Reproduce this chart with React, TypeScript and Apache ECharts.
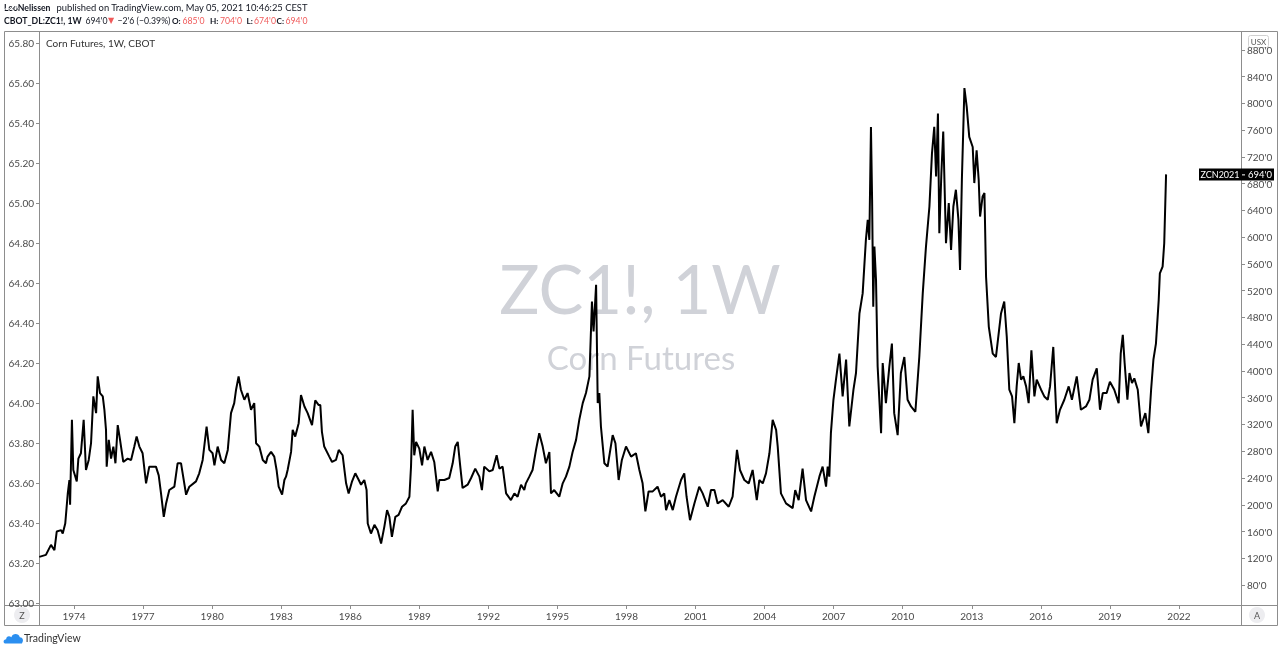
import React, { useEffect, useRef } from "react";
import * as echarts from "echarts";

// Weekly close samples (decimal year, price in US cents)
const weekYears = [
  1972.49, 1972.78, 1973.0, 1973.15, 1973.25, 1973.44, 1973.51, 1973.62, 1973.73, 1973.8, 1973.83, 1973.91, 1973.97,
  1974.12, 1974.19, 1974.3, 1974.42, 1974.52, 1974.64, 1974.74, 1974.84, 1974.96, 1975.03, 1975.13, 1975.25, 1975.32,
  1975.39, 1975.42, 1975.51, 1975.61, 1975.71, 1975.8, 1975.9, 1976.0, 1976.14, 1976.33, 1976.48, 1976.62, 1976.72,
  1976.84, 1976.98, 1977.13, 1977.27, 1977.56, 1977.68, 1977.78, 1977.9, 1978.0, 1978.14, 1978.36, 1978.5, 1978.65,
  1978.72, 1978.87, 1979.01, 1979.3, 1979.44, 1979.59, 1979.76, 1979.88, 1980.02, 1980.1, 1980.24, 1980.39, 1980.53,
  1980.68, 1980.82, 1980.96, 1981.04, 1981.15, 1981.25, 1981.4, 1981.54, 1981.69, 1981.83, 1981.91, 1982.05, 1982.2,
  1982.34, 1982.41, 1982.56, 1982.7, 1982.8, 1982.89, 1983.04, 1983.14, 1983.21, 1983.28, 1983.43, 1983.5, 1983.61,
  1983.76, 1983.86, 1984.01, 1984.15, 1984.34, 1984.48, 1984.63, 1984.7, 1984.77, 1984.87, 1985.09, 1985.21, 1985.38,
  1985.5, 1985.67, 1985.82, 1985.93, 1986.08, 1986.22, 1986.37, 1986.47, 1986.61, 1986.71, 1986.76, 1986.9, 1987.05,
  1987.19, 1987.34, 1987.48, 1987.6, 1987.7, 1987.81, 1987.96, 1988.1, 1988.25, 1988.42, 1988.57, 1988.64, 1988.71,
  1988.78, 1988.86, 1989.0, 1989.12, 1989.22, 1989.36, 1989.51, 1989.65, 1989.8, 1989.87, 1990.09, 1990.3, 1990.45,
  1990.56, 1990.67, 1990.78, 1990.88, 1991.1, 1991.25, 1991.43, 1991.61, 1991.72, 1991.82, 1992.04, 1992.19, 1992.36,
  1992.48, 1992.62, 1992.77, 1992.98, 1993.13, 1993.27, 1993.42, 1993.56, 1993.63, 1993.78, 1993.92, 1994.07, 1994.21,
  1994.36, 1994.5, 1994.65, 1994.72, 1994.86, 1995.08, 1995.23, 1995.37, 1995.52, 1995.66, 1995.81, 1995.95, 1996.1,
  1996.24, 1996.39, 1996.5, 1996.57, 1996.68, 1996.75, 1996.82, 1996.89, 1997.04, 1997.18, 1997.4, 1997.52, 1997.66,
  1997.8, 1997.98, 1998.2, 1998.41, 1998.56, 1998.7, 1998.82, 1998.96, 1999.14, 1999.35, 1999.5, 1999.64, 1999.72,
  1999.86, 2000.01, 2000.15, 2000.37, 2000.51, 2000.61, 2000.76, 2000.95, 2001.16, 2001.31, 2001.53, 2001.67, 2001.82,
  2001.96, 2002.18, 2002.44, 2002.61, 2002.8, 2002.93, 2003.12, 2003.31, 2003.48, 2003.66, 2003.77, 2003.92, 2004.06,
  2004.21, 2004.35, 2004.5, 2004.57, 2004.71, 2004.93, 2005.22, 2005.33, 2005.48, 2005.65, 2005.8, 2006.02, 2006.16,
  2006.38, 2006.52, 2006.67, 2006.74, 2006.81, 2006.88, 2006.99, 2007.1, 2007.25, 2007.39, 2007.54, 2007.68, 2007.86,
  2007.97, 2008.12, 2008.26, 2008.33, 2008.4, 2008.48, 2008.55, 2008.62, 2008.67, 2008.72, 2008.77, 2008.84, 2008.91,
  2009.06, 2009.13, 2009.27, 2009.42, 2009.53, 2009.63, 2009.78, 2009.92, 2010.07, 2010.21, 2010.36, 2010.55, 2010.72,
  2010.87, 2011.01, 2011.16, 2011.27, 2011.37, 2011.45, 2011.53, 2011.59, 2011.68, 2011.76, 2011.88, 2012.0, 2012.1,
  2012.2, 2012.31, 2012.42, 2012.49, 2012.57, 2012.68, 2012.78, 2012.89, 2013.04, 2013.11, 2013.21, 2013.3, 2013.36,
  2013.47, 2013.55, 2013.62, 2013.74, 2013.91, 2014.05, 2014.27, 2014.41, 2014.52, 2014.63, 2014.75, 2014.85, 2014.95,
  2015.04, 2015.14, 2015.24, 2015.36, 2015.47, 2015.59, 2015.72, 2015.82, 2016.01, 2016.15, 2016.3, 2016.4, 2016.54,
  2016.69, 2016.83, 2017.02, 2017.21, 2017.35, 2017.56, 2017.74, 2017.96, 2018.11, 2018.25, 2018.43, 2018.57, 2018.69,
  2018.86, 2019.0, 2019.19, 2019.38, 2019.47, 2019.56, 2019.64, 2019.76, 2019.85, 2019.96, 2020.06, 2020.21, 2020.35,
  2020.54, 2020.67, 2020.79, 2020.89, 2021.0, 2021.12, 2021.17, 2021.29, 2021.36, 2021.44,
];

const closePrices = [
  122, 125, 140, 132, 160, 162, 157, 172, 217, 237, 200, 327, 252,
  235, 269, 277, 327, 252, 267, 292, 362, 337, 392, 367, 362, 342,
  312, 257, 297, 269, 287, 262, 319, 297, 264, 269, 267, 287, 302,
  287, 277, 232, 257, 257, 244, 217, 182, 202, 222, 227, 262, 262,
  247, 215, 227, 235, 247, 267, 317, 282, 277, 259, 287, 267, 262,
  282, 337, 352, 372, 392, 372, 357, 367, 342, 352, 292, 287, 267,
  262, 272, 279, 272, 252, 227, 215, 237, 242, 252, 279, 312, 302,
  322, 364, 347, 337, 319, 356, 349, 349, 309, 287, 272, 264, 267,
  282, 274, 232, 217, 235, 247, 237, 230, 237, 222, 172, 157, 170,
  162, 142, 167, 192, 182, 152, 182, 185, 197, 202, 212, 257, 342,
  274, 294, 284, 259, 287, 267, 279, 264, 220, 237, 237, 240, 262,
  287, 294, 257, 225, 230, 240, 254, 242, 222, 257, 250, 252, 274,
  254, 257, 217, 207, 217, 212, 230, 222, 232, 242, 252, 282, 307,
  287, 262, 279, 217, 222, 212, 232, 242, 257, 279, 297, 327, 352,
  367, 392, 504, 459, 529, 352, 367, 317, 262, 257, 304, 292, 237,
  267, 287, 272, 277, 252, 232, 190, 220, 220, 227, 212, 217, 192,
  207, 192, 212, 237, 247, 212, 177, 202, 227, 217, 197, 222, 222,
  202, 207, 197, 212, 282, 252, 237, 232, 252, 207, 237, 232, 247,
  277, 327, 312, 287, 217, 202, 195, 222, 207, 254, 207, 190, 212,
  242, 257, 227, 257, 242, 307, 357, 387, 426, 362, 417, 317, 372,
  397, 486, 516, 556, 596, 626, 596, 765, 656, 496, 586, 536, 407,
  307, 412, 352, 407, 441, 337, 304, 397, 421, 357, 347, 339, 421,
  516, 586, 646, 725, 765, 691, 785, 606, 696, 758, 591, 651, 581,
  646, 671, 626, 551, 686, 823, 795, 750, 735, 681, 730, 686, 631,
  661, 666, 541, 466, 426, 421, 486, 504, 451, 372, 362, 322, 377,
  412, 387, 392, 377, 352, 431, 362, 387, 372, 362, 357, 377, 436,
  322, 342, 357, 377, 357, 392, 342, 347, 357, 387, 404, 342, 367,
  367, 384, 372, 352, 426, 454, 412, 357, 397, 382, 389, 372, 317,
  337, 307, 372, 417, 441, 506, 546, 556, 591, 694,
];

const priceTicks = [80, 120, 160, 200, 240, 280, 320, 360, 400, 440, 480, 520, 560, 600, 640, 680, 720, 760, 800, 840, 880];
const scaleTicks = [63.0, 63.2, 63.4, 63.6, 63.8, 64.0, 64.2, 64.4, 64.6, 64.8, 65.0, 65.2, 65.4, 65.6, 65.8];
const yearTicks = [1974, 1977, 1980, 1983, 1986, 1989, 1992, 1995, 1998, 2001, 2004, 2007, 2010, 2013, 2016, 2019, 2022];

const contractName = "ZCN2021";
const lastPrice = 694;

const FONT = "Lato, 'Noto Sans', sans-serif";
const AXIS_TEXT = "#4a4a4a";
const FRAME = "#8d8d8d";
const RED = "#f05a5a";
const INK = "#131722";

echarts.graphic.registerShape(
  "tvlogo",
  echarts.graphic.extendPath(
    "M2 11 C0 11 0 7 3 7 C3 4 6 3 8 5 C9 1 15 1 16 5 C19 5 20 8 18 11 Z",
    {}
  )
);

function headText(text: string, x: number, y: number, bold: boolean, color: string, size?: number, family = FONT) {
  const fs = size ?? (bold ? 8.7 : 9.4);
  return {
    type: "text",
    silent: true,
    x,
    y,
    style: { text, fontSize: fs, fontWeight: bold ? "bold" : "normal", fontFamily: family, fill: color, align: "left", verticalAlign: "middle" },
  };
}

export default function App() {
  const ref = useRef<HTMLDivElement>(null);

  useEffect(() => {
    const el = ref.current;
    if (!el) return;
    const chart = echarts.init(el, null, { renderer: "svg" });

    const seriesData = weekYears.map((y, i) => [y, closePrices[i]]);

    const S2 = 8.7;
    const header: any[] = [
      headText("LeoNelissen", 4, 7.5, true, INK),
      headText("published on TradingView.com, May 05, 2021 10:46:25 CEST", 56.5, 7.5, false, INK),
      headText("CBOT_DL:ZC1!, 1W", 4, 20.5, true, INK),
      headText("694'0", 85.5, 20.5, false, INK, S2),
      headText("▼", 108, 20.5, false, RED, 8, "DejaVu Sans"),
      headText("−2'6 (−0.39%)", 117.5, 20.5, false, INK, S2),
      headText("O:", 172, 20.5, true, INK, 8.2),
      headText("685'0", 182.5, 20.5, false, RED, S2),
      headText("H:", 210, 20.5, true, INK, 8.2),
      headText("704'0", 220, 20.5, false, RED, S2),
      headText("L:", 246.5, 20.5, true, INK, 8.2),
      headText("674'0", 254, 20.5, false, RED, S2),
      headText("C:", 276.5, 20.5, true, INK, 8.2),
      headText("694'0", 285.5, 20.5, false, RED, S2),
    ];

    const baseGraphic: any[] = [
      ...header,
      { type: "rect", silent: true, shape: { x: 4.5, y: 31.5, width: 1273, height: 594 }, style: { fill: "none", stroke: FRAME, lineWidth: 1 } },
      { type: "line", silent: true, shape: { x1: 39.5, y1: 31.5, x2: 39.5, y2: 625.5 }, style: { stroke: FRAME, lineWidth: 1 } },
      { type: "line", silent: true, shape: { x1: 1241.5, y1: 31.5, x2: 1241.5, y2: 625.5 }, style: { stroke: FRAME, lineWidth: 1 } },
      { type: "line", silent: true, shape: { x1: 4.5, y1: 605.5, x2: 1277.5, y2: 605.5 }, style: { stroke: FRAME, lineWidth: 1 } },
      { type: "text", silent: true, z: -1, x: 640, y: 288, style: { text: "ZC1!, 1W", fontSize: 67, fontFamily: FONT, fill: "#d0d2d8", align: "center", verticalAlign: "middle" } },
      { type: "text", silent: true, z: -1, x: 641, y: 357, style: { text: "Corn Futures", fontSize: 33, fontFamily: FONT, fill: "#d0d2d8", align: "center", verticalAlign: "middle" } },
      { type: "text", silent: true, x: 46, y: 43, style: { text: "Corn Futures, 1W, CBOT", fontSize: 10, fontFamily: FONT, fill: "#333", align: "left", verticalAlign: "middle" } },
      { type: "circle", silent: true, shape: { cx: 22, cy: 615, r: 8 }, style: { fill: "#ededf0" } },
      { type: "text", silent: true, x: 22, y: 615, style: { text: "Z", fontSize: 9, fontFamily: FONT, fill: "#555", align: "center", verticalAlign: "middle" } },
      { type: "circle", silent: true, shape: { cx: 1257, cy: 615, r: 8 }, style: { fill: "#ededf0" } },
      { type: "text", silent: true, x: 1257, y: 615, style: { text: "A", fontSize: 9, fontFamily: FONT, fill: "#555", align: "center", verticalAlign: "middle" } },
      { type: "rect", silent: true, shape: { x: 1248.5, y: 35.5, width: 20, height: 12, r: 2 }, style: { fill: "#fff", stroke: "#d0d0d0", lineWidth: 1 } },
      { type: "text", silent: true, x: 1258.5, y: 41.5, style: { text: "USX", fontSize: 8, fontFamily: FONT, fill: "#555", align: "center", verticalAlign: "middle" } },
      { type: "tvlogo", silent: true, x: 3, y: 632, scaleX: 1.05, scaleY: 1.05, style: { fill: "#2b8ff0" } },
      { type: "polyline", silent: true, shape: { points: [[3.5, 10.5], [7.5, 7.5], [10.5, 9.5], [14.5, 5.5], [18.5, 8.5]] }, style: { stroke: "#fff", lineWidth: 1, fill: "none" } },
      { type: "text", silent: true, x: 24, y: 638, style: { text: "TradingView", fontSize: 10.5, fontFamily: FONT, fill: "#333", align: "left", verticalAlign: "middle" } },
    ];

    const option: any = {
      animation: false,
      textStyle: { fontFamily: FONT },
      grid: { left: 40, right: 39, top: 32, bottom: 46, containLabel: false },
      xAxis: {
        type: "value",
        min: 1972.523,
        max: 2024.695,
        splitLine: { show: false },
        axisLine: { show: false },
        axisTick: { show: true, customValues: yearTicks, length: 4, lineStyle: { color: FRAME } },
        axisLabel: {
          customValues: yearTicks,
          formatter: (v: number) => String(Math.round(v)),
          color: AXIS_TEXT,
          fontSize: 10,
          margin: 6,
        },
      },
      yAxis: [
        {
          type: "value",
          position: "left",
          min: 62.99,
          max: 65.855,
          splitLine: { show: false },
          axisLine: { show: false },
          axisTick: { show: true, customValues: scaleTicks, length: 4, lineStyle: { color: FRAME } },
          axisLabel: {
            customValues: scaleTicks,
            formatter: (v: number) => v.toFixed(2),
            color: AXIS_TEXT,
            fontSize: 10,
            margin: 6,
          },
        },
        {
          type: "value",
          position: "right",
          min: 50.1,
          max: 906.9,
          splitLine: { show: false },
          axisLine: { show: false },
          axisTick: { show: true, customValues: priceTicks, length: 4, lineStyle: { color: FRAME } },
          axisLabel: {
            customValues: priceTicks,
            formatter: (v: number) => `${v}'0`,
            color: AXIS_TEXT,
            fontSize: 10,
            margin: 6,
          },
        },
      ],
      series: [
        {
          type: "line",
          yAxisIndex: 1,
          data: seriesData,
          showSymbol: false,
          symbol: "none",
          silent: true,
          lineStyle: { color: "#000", width: 2 },
        },
      ],
      graphic: baseGraphic,
    };

    chart.setOption(option);

    const py = chart.convertToPixel({ yAxisIndex: 1 }, lastPrice) as number;
    const tag: any[] = [
      { type: "rect", silent: true, shape: { x: 1199, y: py - 6, width: 42, height: 12 }, style: { fill: "#000" } },
      { type: "text", silent: true, x: 1220, y: py, style: { text: contractName, fontSize: 9, fontFamily: FONT, fill: "#fff", align: "center", verticalAlign: "middle" } },
      { type: "rect", silent: true, shape: { x: 1241, y: py - 6, width: 33, height: 12 }, style: { fill: "#000" } },
      { type: "line", silent: true, shape: { x1: 1242, y1: py + 0.5, x2: 1245, y2: py + 0.5 }, style: { stroke: "#fff", lineWidth: 1 } },
      { type: "text", silent: true, x: 1248, y: py, style: { text: `${lastPrice}'0`, fontSize: 9.5, fontFamily: FONT, fill: "#fff", align: "left", verticalAlign: "middle" } },
    ];
    chart.setOption({ graphic: [...baseGraphic, ...tag] }, { replaceMerge: ["graphic"] });

    return () => chart.dispose();
  }, []);

  return <div ref={ref} style={{ position: "fixed", left: 0, top: 0, width: 1280, height: 651 }} />;
}
